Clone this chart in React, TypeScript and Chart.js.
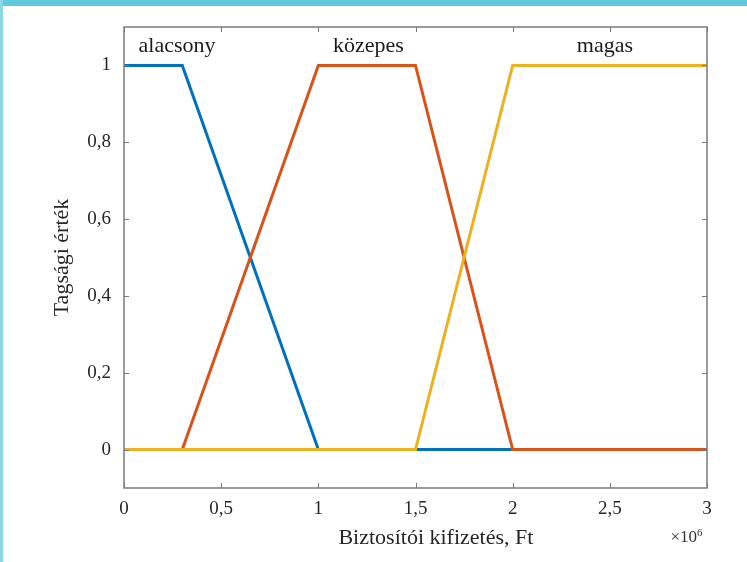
import React, { useEffect, useRef } from "react";
import { Chart, registerables } from "chart.js";

Chart.register(...registerables);

const alacsonyX = [0, 0.3, 1, 3];
const alacsonyY = [1, 1, 0, 0];
const kozepesX = [0, 0.3, 1, 1.5, 2, 3];
const kozepesY = [0, 0, 1, 1, 0, 0];
const magasX = [0, 1.5, 2, 3];
const magasY = [0, 0, 1, 1];

const seriesNames = ["alacsony", "közepes", "magas"];
const labelX = [0.075, 1.075, 2.33];
const labelY = [1.05, 1.05, 1.05];

const xTicks = [0, 0.5, 1, 1.5, 2, 2.5, 3];
const yTicks = [0, 0.2, 0.4, 0.6, 0.8, 1];

const xTitle = "Biztosítói kifizetés, Ft";
const yTitle = "Tagsági érték";

const FONT = "'Liberation Serif', 'Times New Roman', serif";

const toPts = (xs: number[], ys: number[]) => xs.map((x, i) => ({ x, y: ys[i] }));
const fmt = (v: number) => String(v).replace(".", ",");

const boxPlugin = {
  id: "matlabBox",
  afterDatasetsDraw(chart: any) {
    const { ctx, chartArea: a, scales } = chart;
    const xs = scales.x;
    const ys = scales.y;
    ctx.save();
    ctx.strokeStyle = "#7a7a7a";
    ctx.lineWidth = 1.5;
    ctx.strokeRect(a.left, a.top, a.right - a.left, a.bottom - a.top);
    ctx.lineWidth = 1;
    const tl = 5;
    xTicks.forEach((t) => {
      const px = Math.round(xs.getPixelForValue(t)) + 0.5;
      ctx.beginPath();
      ctx.moveTo(px, a.bottom);
      ctx.lineTo(px, a.bottom - tl);
      ctx.moveTo(px, a.top);
      ctx.lineTo(px, a.top + tl);
      ctx.stroke();
    });
    yTicks.forEach((t) => {
      const py = Math.round(ys.getPixelForValue(t)) + 0.5;
      ctx.beginPath();
      ctx.moveTo(a.left, py);
      ctx.lineTo(a.left + tl, py);
      ctx.moveTo(a.right, py);
      ctx.lineTo(a.right - tl, py);
      ctx.stroke();
    });
    // series labels
    ctx.fillStyle = "#1a1a1a";
    ctx.font = `22px ${FONT}`;
    ctx.textBaseline = "middle";
    ctx.textAlign = "left";
    seriesNames.forEach((n, i) => {
      ctx.fillText(n, xs.getPixelForValue(labelX[i]), ys.getPixelForValue(labelY[i]));
    });
    // axis titles
    ctx.fillStyle = "#262626";
    ctx.font = `22px ${FONT}`;
    ctx.textAlign = "center";
    ctx.fillText(xTitle, a.left + 0.535 * (a.right - a.left), a.bottom + 50);
    ctx.save();
    ctx.translate(a.left - 62, (a.top + a.bottom) / 2);
    ctx.rotate(-Math.PI / 2);
    ctx.fillText(yTitle, 0, 0);
    ctx.restore();
    // exponent label
    ctx.font = `17px ${FONT}`;
    ctx.fillStyle = "#333";
    ctx.textAlign = "right";
    ctx.fillText("×10", a.right - 10, a.bottom + 50);
    ctx.font = `11px ${FONT}`;
    ctx.textAlign = "left";
    ctx.fillText("6", a.right - 10, a.bottom + 45);
    ctx.restore();
  },
};

export default function App() {
  const ref = useRef<HTMLCanvasElement>(null);
  useEffect(() => {
    if (!ref.current) return;
    const mk = (label: string, xs: number[], ys: number[], color: string) => ({
      label,
      data: toPts(xs, ys),
      borderColor: color,
      backgroundColor: color,
      borderWidth: 3,
      pointRadius: 0,
      fill: false,
      tension: 0,
    });
    const chart = new Chart(ref.current, {
      type: "line",
      data: {
        datasets: [
          { ...mk(seriesNames[2], magasX, magasY, "#EDB120"), order: 1 },
          { ...mk(seriesNames[1], kozepesX, kozepesY, "#D95319"), order: 2 },
          { ...mk(seriesNames[0], alacsonyX, alacsonyY, "#0072BD"), order: 3 },
        ],
      },
      options: {
        animation: false,
        responsive: false,
        maintainAspectRatio: false,
        layout: { padding: { left: 0, right: 40, top: 27, bottom: 0 } },
        plugins: { legend: { display: false }, tooltip: { enabled: false } },
        scales: {
          x: {
            type: "linear",
            min: 0,
            max: 3,
            afterBuildTicks: (s: any) => {
              s.ticks = xTicks.map((v) => ({ value: v }));
            },
            afterFit: (s: any) => {
              s.height = 74;
            },
            grid: { display: false, drawTicks: false },
            border: { display: false },
            ticks: {
              callback: (v: any) => fmt(v),
              color: "#262626",
              font: { family: FONT, size: 19 },
              padding: 10,
              maxRotation: 0,
            },
          },
          y: {
            type: "linear",
            min: -0.1,
            max: 1.1,
            afterBuildTicks: (s: any) => {
              s.ticks = yTicks.map((v) => ({ value: v }));
            },
            afterFit: (s: any) => {
              s.width = 124;
            },
            grid: { display: false, drawTicks: false },
            border: { display: false },
            ticks: {
              callback: (v: any) => fmt(v),
              color: "#262626",
              font: { family: FONT, size: 19 },
              padding: 13,
            },
          },
        },
      },
      plugins: [boxPlugin],
    });
    return () => chart.destroy();
  }, []);
  return (
    <div style={{ position: "fixed", left: 0, top: 0, width: 747, height: 562, background: "#fff" }}>
      <canvas ref={ref} width={747} height={562} style={{ position: "absolute", left: 0, top: 0 }} />
      <div style={{ position: "absolute", left: 0, top: 0, width: 747, height: 6, background: "#62C8DC" }} />
      <div style={{ position: "absolute", left: 0, top: 0, width: 3, height: 562, background: "#8CD7E6" }} />
    </div>
  );
}
